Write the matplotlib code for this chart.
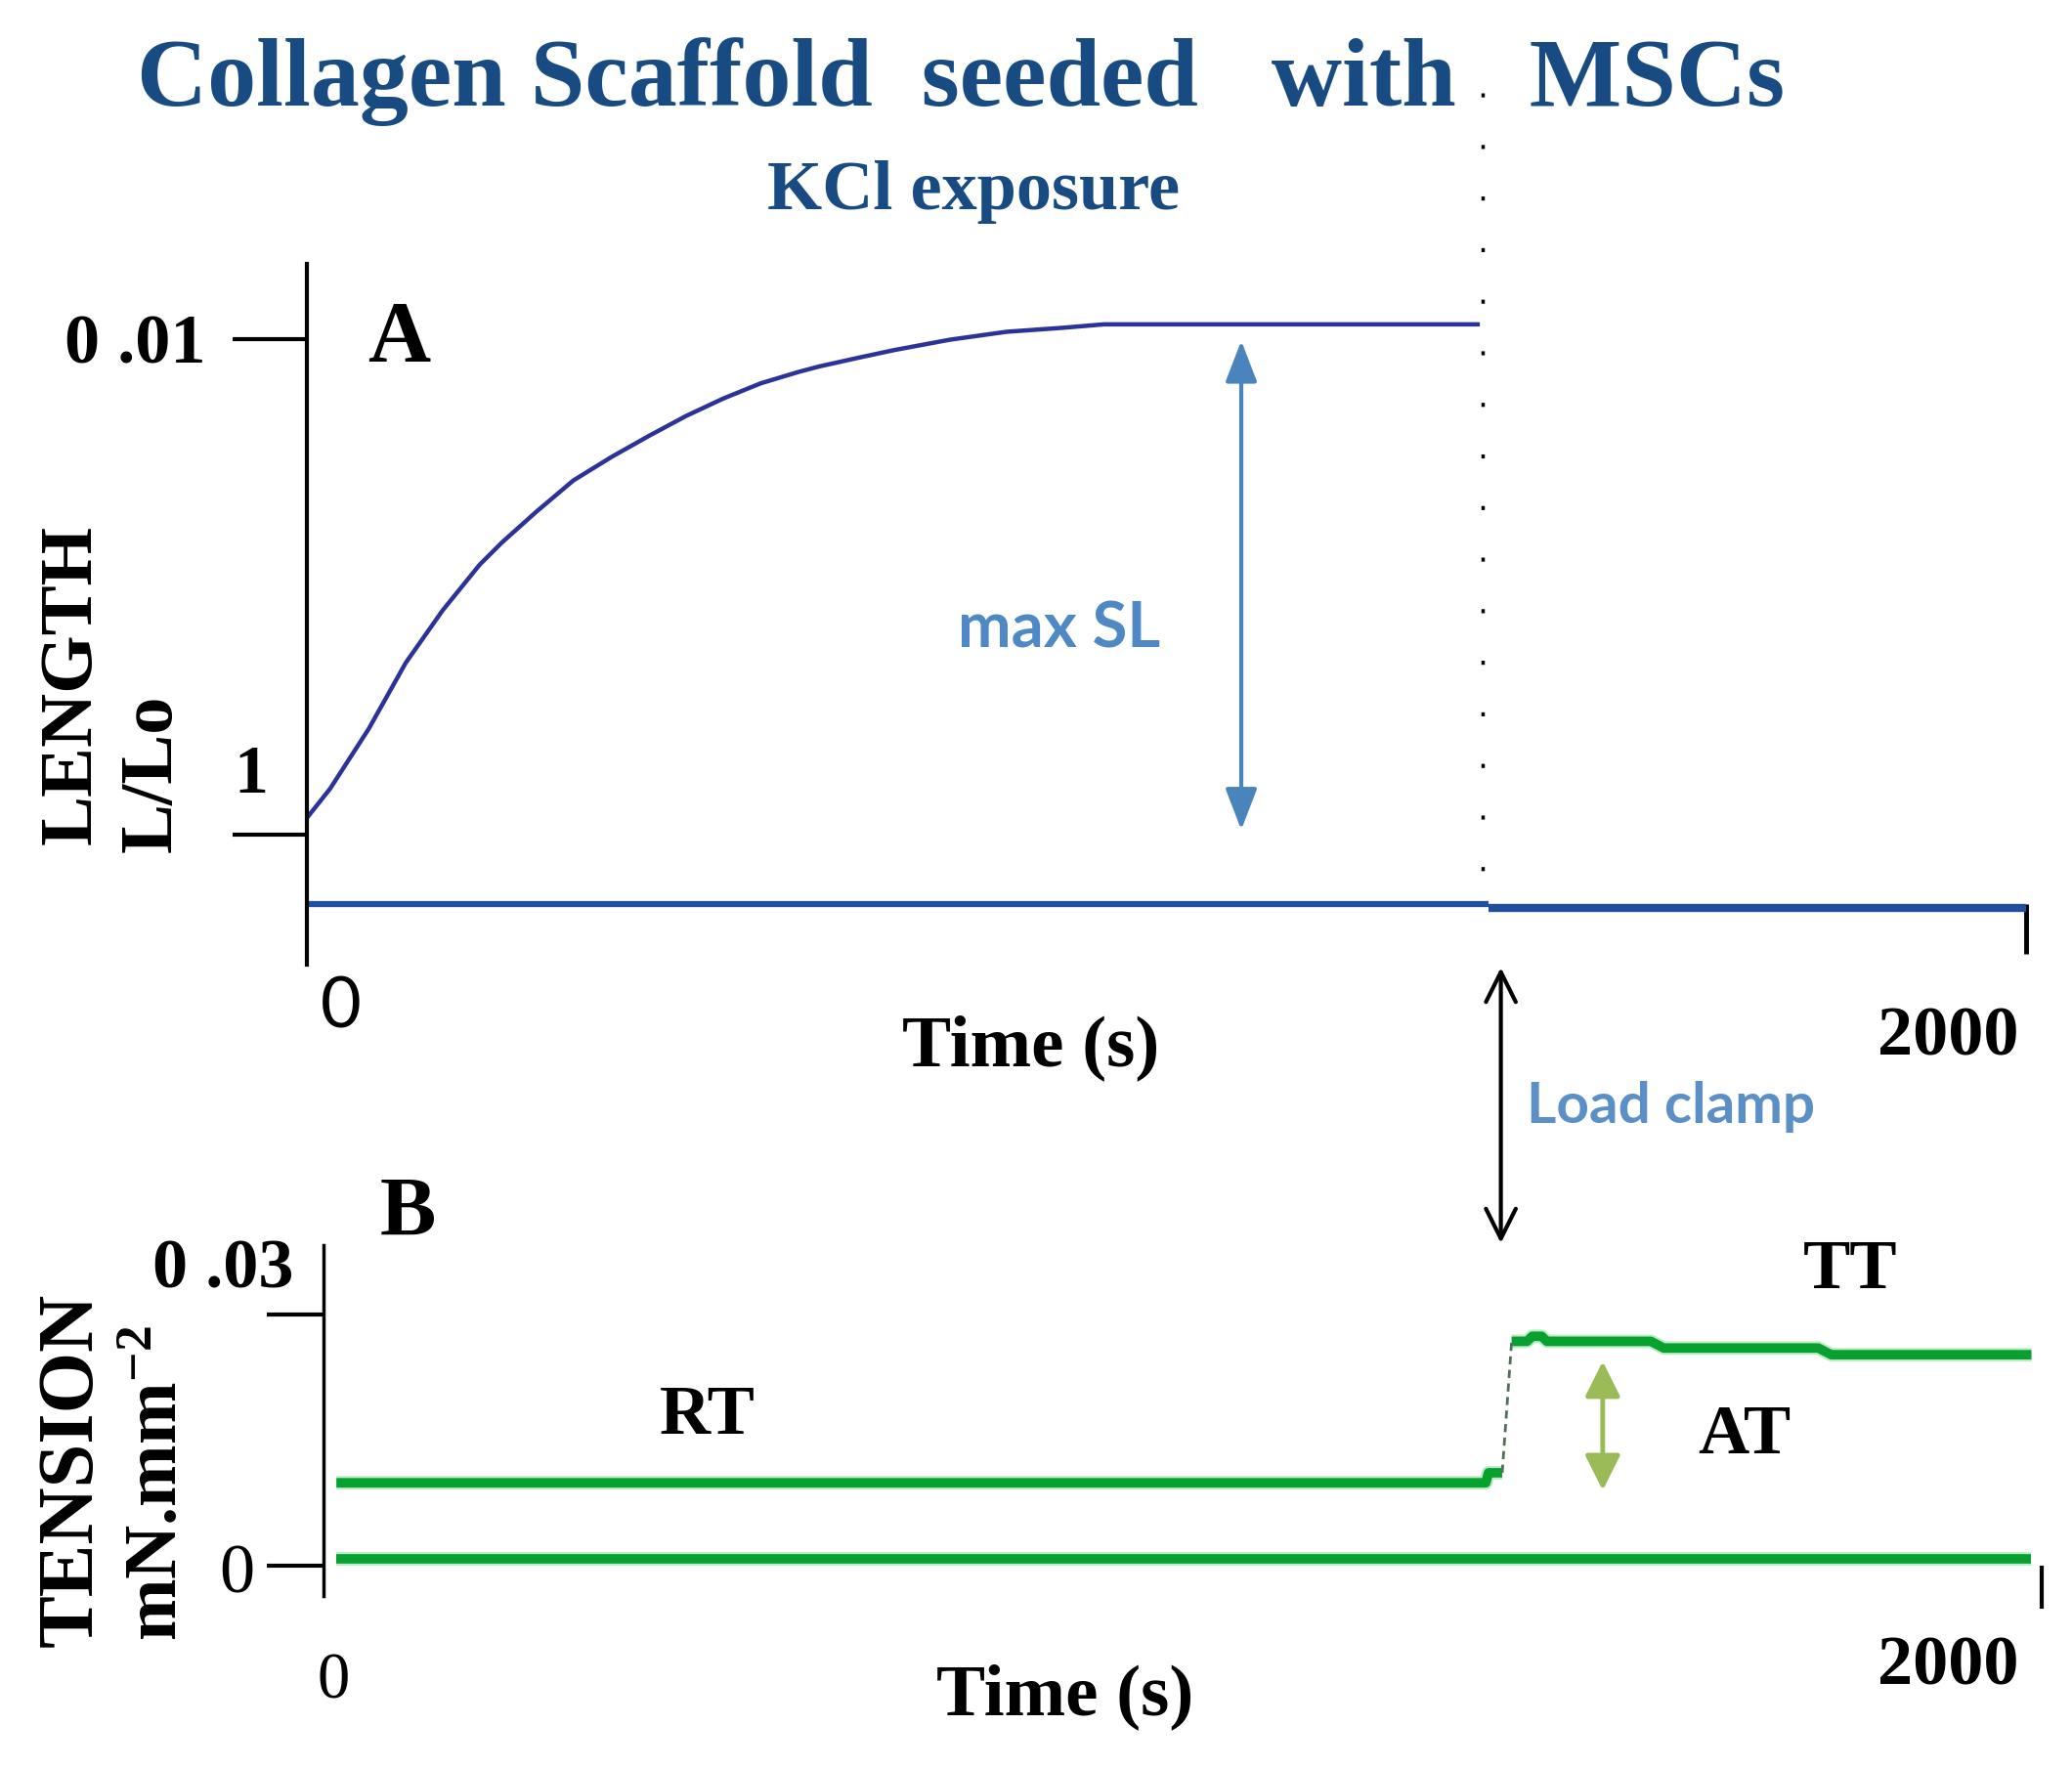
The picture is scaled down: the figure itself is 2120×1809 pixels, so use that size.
import matplotlib
matplotlib.use('Agg')
import matplotlib.pyplot as plt
import matplotlib.transforms as mtransforms

plt.rcParams['font.family'] = ['Liberation Serif', 'DejaVu Serif']
plt.rcParams['mathtext.fontset'] = 'custom'
plt.rcParams['mathtext.rm'] = 'Liberation Serif:bold'
plt.rcParams['mathtext.it'] = 'Liberation Serif:bold'
plt.rcParams['mathtext.bf'] = 'Liberation Serif:bold'

# panel A: length (L/Lo) vs time
len_t = [0, 27, 72, 115, 158, 201, 227, 267, 310, 354, 398, 441, 484, 528, 572,
         596, 640, 683, 748, 814, 879, 927, 1362]
len_val = [1.00034, 1.00093, 1.00214, 1.00347, 1.00453, 1.00545, 1.00590, 1.00652,
           1.00715, 1.00762, 1.00805, 1.00845, 1.00880, 1.00911, 1.00934, 1.00945,
           1.00962, 1.00978, 1.00999, 1.01015, 1.01023, 1.01030, 1.01030]
len_base_t1 = [0, 1375]
len_base_v1 = [0.99861, 0.99861]
len_base_t2 = [1375, 2000]
len_base_v2 = [0.99852, 0.99852]
len_ticks = [1.0, 1.01]
maxsl_t = 1087
maxsl_range = [1.0001, 1.00997]
kcl_t = 1368
clamp_t = 1389

# panel B: tension vs time
ten_base_t = [15, 1988]
ten_base_v = [0.0008, 0.0008]
rt_t = [15, 1353, 1356, 1372]
rt_v = [0.0099, 0.0099, 0.0111, 0.0111]
rise_t = [1372, 1383]
rise_v = [0.0111, 0.0268]
tt_t = [1383, 1401, 1407, 1418, 1424, 1545, 1560, 1740, 1755, 1988]
tt_v = [0.0268, 0.0268, 0.0274, 0.0274, 0.0268, 0.0268, 0.0260, 0.0260, 0.0252, 0.0252]
ten_ticks = [0.0, 0.03]
at_t = 1489
at_range = [0.0244, 0.0090]

W, H = 2120, 1809
fig = plt.figure(figsize=(21.2, 18.09), dpi=100)


def fx(px):
    return px / W


def fy(py):
    return 1 - py / H


navy = '#174B82'
steel = '#4F89C5'
green = '#08A12F'

# ---- panel A ----
axA = fig.add_axes([fx(314), fy(987), fx(2073) - fx(314), fy(270) - fy(987)])
axA.set_xlim(0, 2000)
axA.set_ylim(0.99738, 1.01152)
for s in ['top', 'right', 'bottom']:
    axA.spines[s].set_visible(False)
axA.spines['left'].set_linewidth(3)
axA.spines['bottom'].set_position(('data', len_base_v1[0]))
axA.set_yticks(len_ticks)
axA.set_yticklabels([])
axA.tick_params(axis='y', length=55, width=3, direction='out')
axA.set_xticks([2000])
axA.set_xticklabels([])
axA.tick_params(axis='x', length=37, width=3.5, direction='out')
axA.patch.set_alpha(0)

axA.plot(len_t, len_val, color='#2B3399', lw=3.2, solid_joinstyle='round')
axA.plot(len_base_t1, len_base_v1, color='#1F4F9F', lw=4.5, solid_capstyle='butt')
axA.plot(len_base_t2, len_base_v2, color='#1F4F9F', lw=6, solid_capstyle='butt')

axA.annotate('', xy=(maxsl_t, maxsl_range[0]), xytext=(maxsl_t, maxsl_range[1]),
             arrowprops=dict(arrowstyle='<|-|>,head_length=1.3,head_width=0.5',
                             color='#4A84BD', lw=3, shrinkA=0, shrinkB=0,
                             mutation_scale=20))
axA.text(maxsl_t - 330, 1.0 + (854 - 662) / 507 * 0.01, 'max SL', family='Lato',
         weight='bold', fontsize=47, color=steel, ha='left', va='baseline')

blend = mtransforms.blended_transform_factory(axA.transData, fig.transFigure)
axA.plot([kcl_t, kcl_t], [fy(95), fy(892)], transform=blend, clip_on=False,
         ls=(0, (1.2, 14)), lw=2.5, color='k')

axA.annotate('', xy=(clamp_t, fy(1272)), xytext=(clamp_t, fy(990)),
             xycoords=('data', 'figure fraction'), textcoords=('data', 'figure fraction'),
             annotation_clip=False,
             arrowprops=dict(arrowstyle='<->,head_length=1.1,head_width=0.55',
                             color='black', lw=3, shrinkA=0, shrinkB=0, mutation_scale=20))

# ---- panel B ----
axB = fig.add_axes([fx(331), fy(1633), fx(2089) - fx(331), fy(1274) - fy(1633)])
axB.set_xlim(0, 2000)
axB.set_ylim(-0.00362, 0.03829)
for s in ['top', 'right', 'bottom']:
    axB.spines[s].set_visible(False)
axB.spines['left'].set_linewidth(2.5)
axB.spines['bottom'].set_position(('data', 0))
axB.set_yticks(ten_ticks)
axB.set_yticklabels([])
axB.tick_params(axis='y', length=42, width=3, direction='out')
axB.set_xticks([2000])
axB.set_xticklabels([])
axB.tick_params(axis='x', length=32, width=3, direction='out')
axB.patch.set_alpha(0)

for tt, vv in [(ten_base_t, ten_base_v), (rt_t, rt_v), (tt_t, tt_v)]:
    axB.plot(tt, vv, color='#8FE0A0', lw=10, solid_capstyle='butt', alpha=0.6)
    axB.plot(tt, vv, color=green, lw=7, solid_capstyle='butt')
axB.plot(rise_t, rise_v, color='#4F6F5A', lw=2, ls=(0, (3, 2)))

axB.annotate('', xy=(at_t, at_range[1]), xytext=(at_t, at_range[0]),
             arrowprops=dict(arrowstyle='<|-|>,head_length=1.1,head_width=0.55',
                             color='#9BBB59', lw=3.5, shrinkA=0, shrinkB=0,
                             mutation_scale=20))

# ---- text ----
fig.text(fx(983), fy(108), 'Collagen Scaffold  seeded   with   MSCs', fontsize=72,
         weight='bold', color=navy, ha='center', va='baseline')
fig.text(fx(996), fy(214), 'KCl exposure', fontsize=52, weight='bold', color=navy,
         ha='center', va='baseline')

fig.text(fx(376), fy(369), 'A', fontsize=64, weight='bold', ha='left', va='baseline')
fig.text(fx(210), fy(372), '0 .01', fontsize=52, weight='bold', ha='right', va='baseline')
fig.text(fx(257), fy(811), '1', fontsize=50, weight='bold', ha='center', va='baseline')
fig.text(fx(74), fy(700), 'LENGTH', fontsize=55, weight='bold', rotation=90,
         ha='center', va='center')
fig.text(fx(156), fy(791), 'L/Lo', fontsize=55, weight='bold', rotation=90,
         ha='center', va='center')
fig.text(fx(349), fy(1052), '0', fontsize=52, family='Lato', ha='center', va='baseline')
fig.text(fx(1055), fy(1090), 'Time (s)', fontsize=54, weight='bold', ha='center', va='baseline')
fig.text(fx(2066), fy(1079), '2000', fontsize=52, weight='bold', ha='right', va='baseline')
fig.text(fx(1562), fy(1149), 'Load clamp', fontsize=42, family='Lato', weight='bold',
         color='#5A8FC8', ha='left', va='baseline')

fig.text(fx(389), fy(1264), 'B', fontsize=62, weight='bold', ha='left', va='baseline')
fig.text(fx(300), fy(1318), '0 .03', fontsize=52, weight='bold', ha='right', va='baseline')
fig.text(fx(242), fy(1629), '0', fontsize=52, ha='center', va='baseline')
fig.text(fx(74), fy(1504), 'TENSION', fontsize=58, weight='bold', rotation=90,
         ha='center', va='center')
fig.text(fx(162), fy(1518), r'mN.mm$^{-2}$', fontsize=55, weight='bold', rotation=90,
         ha='center', va='center')
fig.text(fx(341), fy(1737), '0', fontsize=48, ha='center', va='baseline')
fig.text(fx(1090), fy(1754), 'Time (s)', fontsize=54, weight='bold', ha='center', va='baseline')
fig.text(fx(2066), fy(1724), '2000', fontsize=52, weight='bold', ha='right', va='baseline')
fig.text(fx(724), fy(1467), 'RT', fontsize=52, weight='bold', ha='center', va='baseline')
fig.text(fx(1893), fy(1318), 'TT', fontsize=52, weight='bold', ha='center', va='baseline')
fig.text(fx(1785), fy(1487), 'AT', fontsize=52, weight='bold', ha='center', va='baseline')

fig.savefig('out.png', dpi=100, facecolor='white')
